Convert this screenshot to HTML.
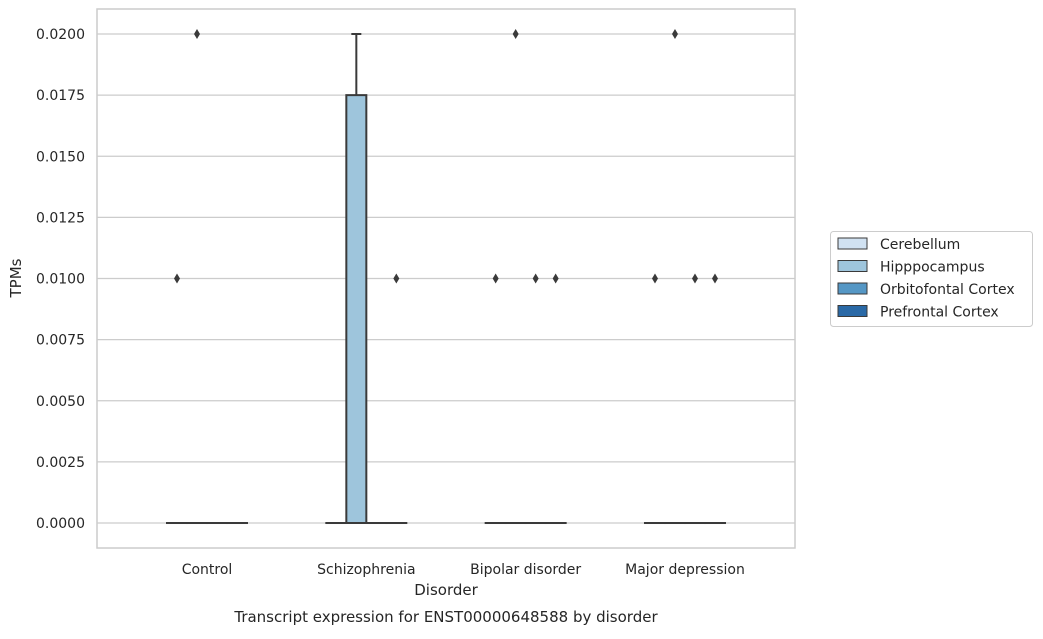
<!DOCTYPE html>
<html><head><meta charset="utf-8"><style>
body{margin:0;background:#fff;font-family:"Liberation Sans","DejaVu Sans",sans-serif;}
</style></head><body>
<svg id="c" width="1043" height="634" xmlns="http://www.w3.org/2000/svg" style="font-family:'DejaVu Sans','Liberation Sans',sans-serif"></svg>
<script>
const categories=["Control","Schizophrenia","Bipolar disorder","Major depression"];
const hues=["Cerebellum","Hipppocampus","Orbitofontal Cortex","Prefrontal Cortex"];
const hueColors=["#d1e2f2","#9ec5dc","#5597c5","#2a69a6"];
const q1=[[0,0,0,0],[0,0,0,0],[0,0,0,0],[0,0,0,0]];
const med=[[0,0,0,0],[0,0,0,0],[0,0,0,0],[0,0,0,0]];
const q3=[[0,0,0,0],[0,0.0175,0,0],[0,0,0,0],[0,0,0,0]];
const whiskHi=[[0,0,0,0],[0,0.02,0,0],[0,0,0,0],[0,0,0,0]];
const outliers=[[[0.01],[0.02],[],[]],[[],[],[],[0.01]],[[0.01],[0.02],[0.01],[0.01]],[[0.01],[0.02],[0.01],[0.01]]];
const yTicks=[0,0.0025,0.005,0.0075,0.01,0.0125,0.015,0.0175,0.02];
const NS="http://www.w3.org/2000/svg";
const svg=document.getElementById('c');
const L=97,R=795,T=9,B=548;
const y=v=>523-v/0.02*489;
const xc=i=>207+i*159.33;
const bw=20;
function mk(t,a,p){const e=document.createElementNS(NS,t);for(const k in a)e.setAttribute(k,a[k]);(p||svg).appendChild(e);return e;}
// grid
yTicks.forEach(v=>{
 const g=mk('line',{x1:L,x2:R,y1:y(v),y2:y(v),stroke:'#cccccc','stroke-width':1.2});
 
 
 const t=mk('text',{x:L-12,y:y(v)+5,'text-anchor':'end','font-size':14,fill:'#262626'});
 t.textContent=v.toFixed(4);
 
 
});
const fr=mk('rect',{x:L,y:T,width:R-L,height:B-T,fill:'none',stroke:'#cccccc','stroke-width':1.5});


categories.forEach((c,i)=>{
 const t=mk('text',{x:xc(i),y:574,'text-anchor':'middle','font-size':14,fill:'#262626'});
 t.textContent=c;
 
 
 hues.forEach((h,j)=>{
  const x0=xc(i)-40+j*bw, cx=x0+bw/2;
  const g=mk('g',{});
  
  
  if(whiskHi[i][j]>q3[i][j]){
   mk('line',{x1:cx,x2:cx,y1:y(q3[i][j]),y2:y(whiskHi[i][j]),stroke:'#3a3a3a','stroke-width':2},g);
   mk('line',{x1:cx-5,x2:cx+5,y1:y(whiskHi[i][j]),y2:y(whiskHi[i][j]),stroke:'#3a3a3a','stroke-width':2},g);
  }
  mk('rect',{x:x0,y:y(q3[i][j]),width:bw,height:Math.max(0.01,y(q1[i][j])-y(q3[i][j])),fill:hueColors[j],stroke:'#3a3a3a','stroke-width':2},g);
  mk('line',{x1:x0,x2:x0+bw,y1:y(med[i][j]),y2:y(med[i][j]),stroke:'#3a3a3a','stroke-width':2},g);
  outliers[i][j].forEach(v=>{
   const d=mk('path',{d:`M${cx},${y(v)-5}L${cx+3},${y(v)}L${cx},${y(v)+5}L${cx-3},${y(v)}Z`,fill:'#3a3a3a'},g);
   
   
  });
 });
});
const yl=mk('text',{x:21,y:278,'text-anchor':'middle','font-size':15,fill:'#262626',transform:'rotate(-90 21 278)'});
yl.textContent='TPMs';
const xl=mk('text',{x:446,y:595,'text-anchor':'middle','font-size':15,fill:'#262626'});
xl.textContent='Disorder';
const tt=mk('text',{x:446,y:622,'text-anchor':'middle','font-size':15,fill:'#262626'});
tt.textContent='Transcript expression for ENST00000648588 by disorder';
const lg=mk('g',{});


mk('rect',{x:830.5,y:231.5,width:202,height:95,rx:3,fill:'#fff',stroke:'#cccccc'},lg);
hues.forEach((h,j)=>{
 const e=mk('g',{},lg);
 
 
 mk('rect',{x:838,y:238+j*22.5,width:29,height:11,fill:hueColors[j],stroke:'#3a3a3a','stroke-width':1},e);
 const t=mk('text',{x:880,y:249+j*22.5,'font-size':14,fill:'#262626'},e);
 t.textContent=h;
});
</script>
</body></html>
